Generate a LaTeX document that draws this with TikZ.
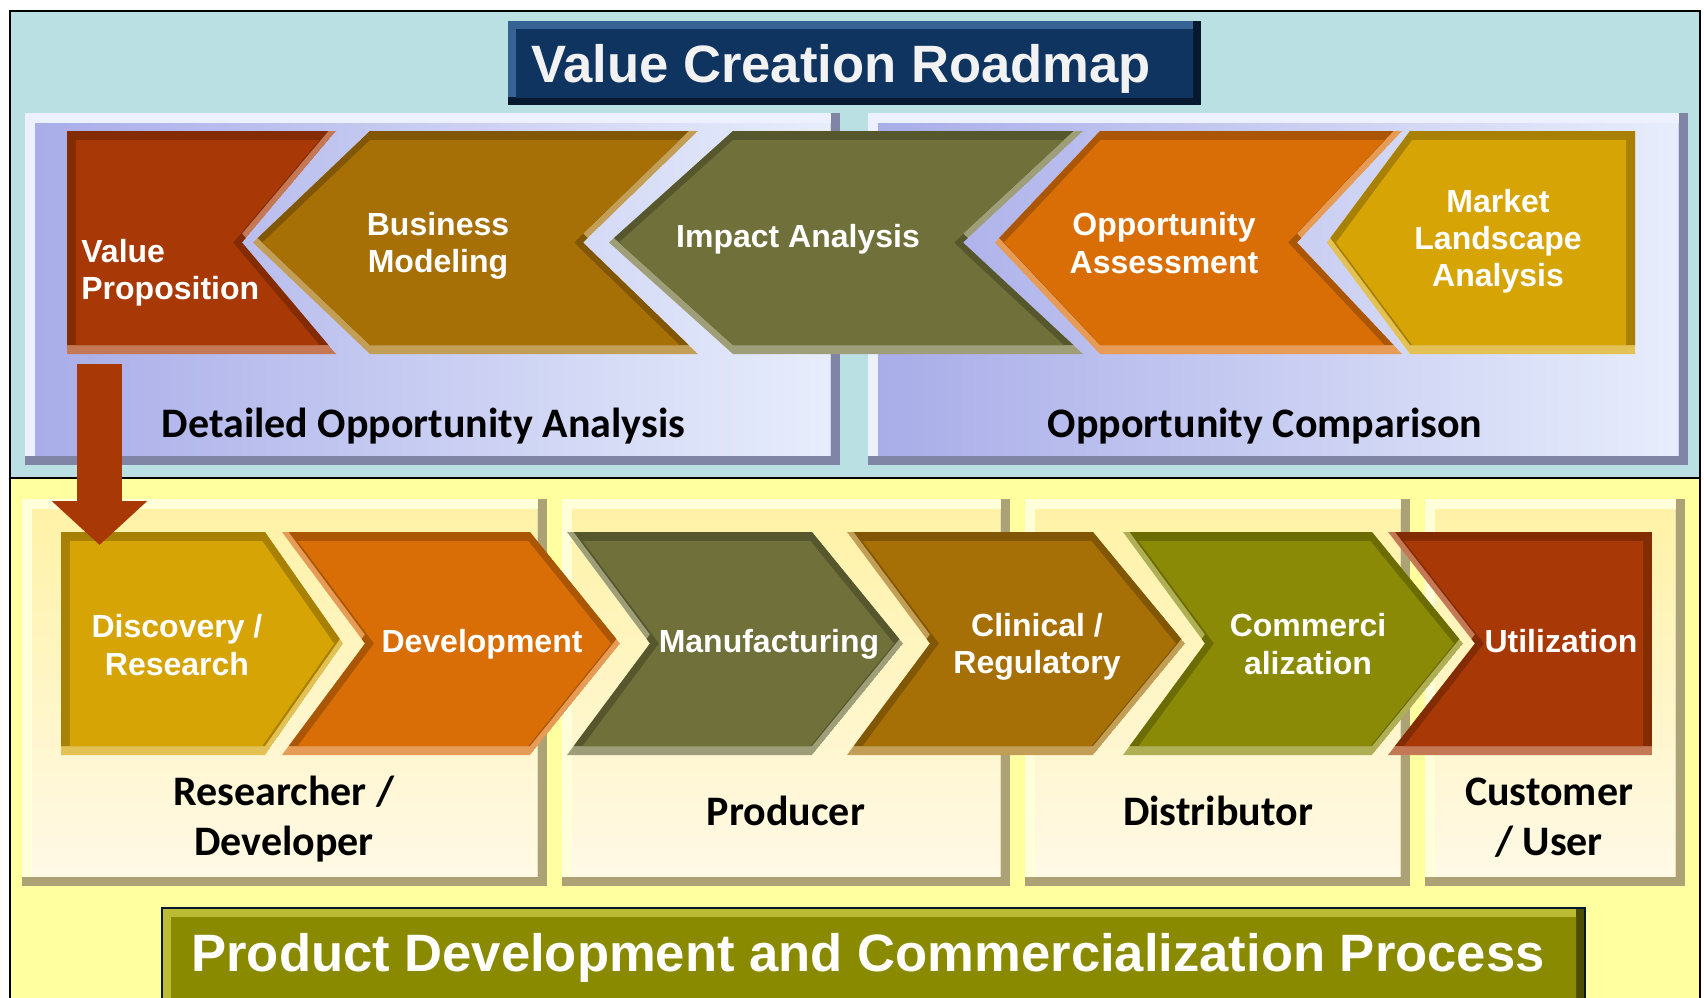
\documentclass[tikz,border=0pt]{standalone}
\usepackage{fontspec}
\setmainfont{Liberation Sans}
\newfontfamily\calib{Carlito}
\usetikzlibrary{arrows.meta}

\definecolor{cCyanBg}{RGB}{186,224,227}
\definecolor{cYelBg}{RGB}{255,255,160}
\definecolor{cNavy}{RGB}{15,52,96}
\definecolor{cNavyLt}{RGB}{55,98,148}
\definecolor{cNavyDk}{RGB}{8,24,46}
\definecolor{cOliveT}{RGB}{138,138,0}
\definecolor{cOliveTLt}{RGB}{188,188,52}
\definecolor{cOliveTDk}{RGB}{78,78,0}
\definecolor{cRust}{RGB}{168,56,5}
\definecolor{cGBrown}{RGB}{166,112,6}
\definecolor{cDrab}{RGB}{112,112,58}
\definecolor{cOrange}{RGB}{218,110,6}
\definecolor{cGold}{RGB}{214,164,5}
\definecolor{cOlive}{RGB}{138,138,6}
\definecolor{cLavA}{RGB}{168,172,232}
\definecolor{cLavB}{RGB}{232,238,252}
\definecolor{cLavLt}{RGB}{236,240,255}
\definecolor{cLavDk}{RGB}{128,132,165}
\definecolor{cCreamA}{RGB}{255,242,165}
\definecolor{cCreamB}{RGB}{255,249,232}
\definecolor{cCreamLt}{RGB}{255,255,218}
\definecolor{cCreamDk}{RGB}{172,162,118}
\definecolor{cTitleTxt}{RGB}{242,242,242}

% #1 path, #2 first fill, #3 second fill, #4 shift of second fill, #5 inner fill, #6 bevel width
\newcommand\bevshape[6]{%
  \begin{scope}
    \clip #1;
    \fill[#2] #1;
    \fill[#3,shift={#4}] #1;
    \clip[shift={(#6,0)}] #1;
    \clip[shift={(-#6,0)}] #1;
    \clip[shift={(0,#6)}] #1;
    \clip[shift={(0,-#6)}] #1;
    \fill[#5] #1;
  \end{scope}}
\newcommand\chevshape[2]{\bevshape{#1}{fill=#2!68!white}{fill=#2!78!black}{(0,-9)}{fill=#2}{9}}

\tikzset{
  chevtxt/.style={text=white, font=\bfseries\fontsize{16}{18.6}\selectfont, align=center, inner sep=0pt},
  lbltxt/.style={text=black, font=\calib\bfseries\fontsize{21}{25}\selectfont, align=center, inner sep=0pt},
  ttltxt/.style={text=white, font=\bfseries\fontsize{26.3}{30}\selectfont, inner sep=0pt},
  blockarrow/.style={draw=cRust, line width=22.5pt, -{Triangle[length=22pt,width=46.5pt]}}
}

\begin{document}
\begin{tikzpicture}[x=0.5pt,y=-0.5pt]
\useasboundingbox (0,0) rectangle (1704,997);
\clip (0,0) rectangle (1704,997);
\fill[white] (0,0) rectangle (1704,997);

% backgrounds
\fill[cCyanBg] (10,11) rectangle (1700,478);
\fill[cYelBg] (10,478) rectangle (1700,1000);
\draw[line width=1pt] (10,1000) -- (10,11) -- (1700,11) -- (1700,1000);
\draw[line width=0.8pt] (10,478) -- (1700,478);

% title box
\bevshape{(508,21) rectangle (1201,105)}{fill=cNavyDk}{fill=cNavyLt}{(-8,-8)}{fill=cNavy}{8}

% top panels
\bevshape{(25,113) rectangle (840,465)}{fill=cLavDk}{fill=cLavLt}{(-9,-9)}{left color=cLavA,right color=cLavB}{10}
\bevshape{(868,113) rectangle (1688,465)}{fill=cLavDk}{fill=cLavLt}{(-9,-9)}{left color=cLavA,right color=cLavB}{10}

% bottom panels
\bevshape{(22,499) rectangle (547,886)}{fill=cCreamDk}{fill=cCreamLt}{(-9,-9)}{top color=cCreamA,bottom color=cCreamB}{10}
\bevshape{(562,499) rectangle (1010,886)}{fill=cCreamDk}{fill=cCreamLt}{(-9,-9)}{top color=cCreamA,bottom color=cCreamB}{10}
\bevshape{(1025,499) rectangle (1410,886)}{fill=cCreamDk}{fill=cCreamLt}{(-9,-9)}{top color=cCreamA,bottom color=cCreamB}{10}
\bevshape{(1425,499) rectangle (1685,886)}{fill=cCreamDk}{fill=cCreamLt}{(-9,-9)}{top color=cCreamA,bottom color=cCreamB}{10}

% bottom title box
\bevshape{(162,908) rectangle (1585,1010)}{fill=cOliveTDk}{fill=cOliveTLt}{(-9,-9)}{fill=cOliveT}{9}
\draw[cNavyDk, line width=1pt] (162,1010) -- (162,908) -- (1585,908) -- (1585,1010);

% top chevrons (pointing left)
\chevshape{(67,131)--(336,131)--(242,242.5)--(336,354)--(67,354)--cycle}{cRust}
\chevshape{(253,242.5)--(370,131)--(698,131)--(583,242.5)--(698,354)--(370,354)--cycle}{cGBrown}
\chevshape{(609,242.5)--(733,131)--(1083,131)--(963,242.5)--(1083,354)--(733,354)--cycle}{cDrab}
\chevshape{(995,242.5)--(1100,131)--(1402,131)--(1297,242.5)--(1402,354)--(1100,354)--cycle}{cOrange}
\chevshape{(1327,242.5)--(1410,131)--(1635,131)--(1635,354)--(1410,354)--cycle}{cGold}

% bottom chevrons (pointing right)
\chevshape{(61,532)--(265,532)--(343,643.5)--(265,755)--(61,755)--cycle}{cGold}
\chevshape{(282,532)--(530,532)--(620,643.5)--(530,755)--(282,755)--(365,643.5)--cycle}{cOrange}
\chevshape{(567,532)--(812,532)--(903,643.5)--(812,755)--(567,755)--(650,643.5)--cycle}{cDrab}
\chevshape{(847,532)--(1093,532)--(1185,643.5)--(1093,755)--(847,755)--(930,643.5)--cycle}{cGBrown}
\chevshape{(1123,532)--(1372,532)--(1463,643.5)--(1372,755)--(1123,755)--(1205,643.5)--cycle}{cOlive}
\chevshape{(1388,532)--(1652,532)--(1652,755)--(1388,755)--(1475,643.5)--cycle}{cRust}

% texts
\node[ttltxt, text=cTitleTxt, anchor=base] (title1) at (841,82) {Value Creation Roadmap};
\node[ttltxt, anchor=base] (title2) at (868,971) {Product Development and Commercialization Process};

\node[chevtxt, anchor=west, align=left] (vp) at (81,273) {Value\\Proposition};
\node[chevtxt] (bm) at (438,246) {Business\\Modeling};
\node[chevtxt, anchor=base] (ia) at (798,247) {Impact Analysis};
\node[chevtxt] (oa) at (1164,243) {Opportunity\\Assessment};
\node[chevtxt] (mla) at (1498,241.5) {Market\\Landscape\\Analysis};

\node[chevtxt] (dr) at (177,645) {Discovery /\\Research};
\node[chevtxt, anchor=base] (dev) at (482,652) {Development};
\node[chevtxt, anchor=base] (man) at (769,652) {Manufacturing};
\node[chevtxt] (clin) at (1037,647) {Clinical /\\Regulatory};
\node[chevtxt] (comm) at (1308,644) {Commerci\\alization};
\node[chevtxt, anchor=base] (util) at (1561,652) {Utilization};

\node[lbltxt, anchor=base] (doa) at (423.5,437) {Detailed Opportunity Analysis};
\node[lbltxt, anchor=base] (oc) at (1265,437) {Opportunity Comparison};
\node[lbltxt] (resdev) at (284,819) {Researcher /\\Developer};
\node[lbltxt, anchor=base] (prod) at (786,825) {Producer};
\node[lbltxt, anchor=base] (dist) at (1218,825) {Distributor};
\node[lbltxt] (cust) at (1549,818) {Customer\\/ User};

% arrow from Value Proposition down to Discovery / Research
\coordinate (vpbot) at (99.5,364);
\coordinate (drtop) at (99.5,545);
\draw[blockarrow] (vpbot) -- (drtop);
\end{tikzpicture}
\end{document}
